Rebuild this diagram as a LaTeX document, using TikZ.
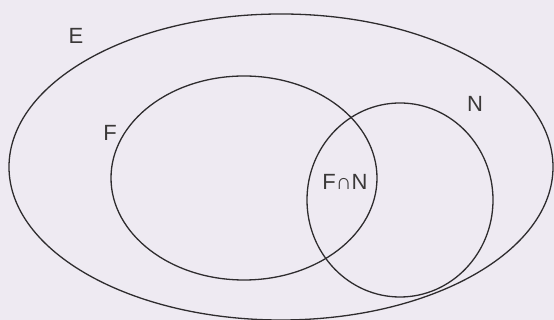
\documentclass[tikz,border=0pt]{standalone}
\usepackage{fontspec}
\setmainfont{Liberation Sans}
\definecolor{bg}{HTML}{EEEAF2}
\definecolor{ink}{HTML}{2E2C2E}
\definecolor{txt}{HTML}{3A3838}
\begin{document}
\begin{tikzpicture}[x=1pt,y=1pt,
  setline/.style={draw=ink,line width=1.3pt},
  lbl/.style={text=txt,font=\fontsize{22}{24}\selectfont,inner sep=0pt}]
\fill[bg] (0,0) rectangle (554,320);
\useasboundingbox (0,0) rectangle (554,320);
\begin{scope}
\clip (0,0) rectangle (554,320);
\draw[setline] (281,153) ellipse [x radius=272, y radius=153];
\end{scope}
\draw[setline] (244,142) ellipse [x radius=133, y radius=102];
\draw[setline] (400,120) ellipse [x radius=93, y radius=97];
\node[lbl] (E) at (76,284) {E};
\node[lbl] (F) at (110,187) {F};
\node[lbl] (N) at (475,216) {N};
\node[lbl] (FN) at (345,138) {F∩N};
\end{tikzpicture}
\end{document}
